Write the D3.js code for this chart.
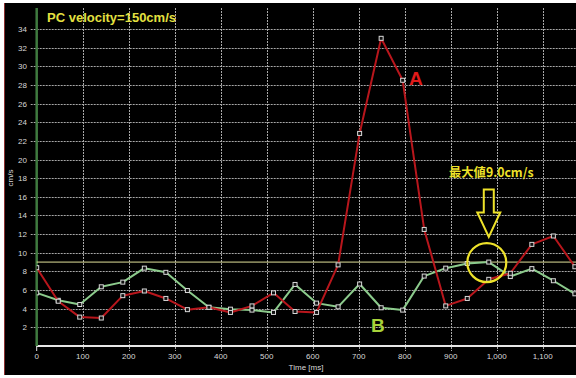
<!DOCTYPE html>
<html>
<head>
<meta charset="utf-8">
<script src="https://cdn.jsdelivr.net/npm/d3@7"></script>
<style>
  html, body { margin: 0; padding: 0; background: #fff; }
  svg { display: block; }
</style>
</head>
<body>
<svg id="chart" width="576" height="378"></svg>
<script>
// Frame interval of the phase-contrast acquisition (ms)
const frameMs = 46.8;

// Series A (red) and series B (green), velocity in cm/s per frame
const seriesA = [8.4, 4.8, 3.1, 3.0, 5.4, 5.9, 5.1, 3.9, 4.15, 3.6, 4.3, 5.7, 3.7,
                 3.6, 8.7, 22.8, 33.0, 28.5, 12.5, 4.3, 5.1, 7.15, 7.8, 10.9, 11.8, 8.5];
const seriesB = [5.7, 4.9, 4.45, 6.35, 6.85, 8.35, 7.9, 5.95, 4.15, 3.95, 3.85, 3.6, 6.6,
                 4.6, 4.2, 6.65, 4.1, 3.85, 7.5, 8.35, 8.85, 9.0, 7.45, 8.3, 7.0, 5.6];

const yTicks = [2, 4, 6, 8, 10, 12, 14, 16, 18, 20, 22, 24, 26, 28, 30, 32, 34];
const xTicks = [0, 100, 200, 300, 400, 500, 600, 700, 800, 900, 1000, 1100];

const peakB = 9.0;
const titleText = "PC velocity=150cm/s";
const peakText = "最大値9.0cm/s";

const svg = d3.select("#chart");
const W = 576, H = 378;

const x = d3.scaleLinear().domain([0, 1100]).range([36.7, 542.7]);
const y = d3.scaleLinear().domain([0, 34]).range([346, 29]);
const plotTop = 8, plotRight = W;

// Panel background
svg.append("rect").attr("x", 4).attr("y", 3).attr("width", W - 4).attr("height", 372).attr("fill", "#000");
svg.append("line").attr("x1", 4.5).attr("x2", 4.5).attr("y1", 3).attr("y2", 375)
  .attr("stroke", "#8a3030").attr("stroke-width", 1);

svg.append("defs").append("clipPath").attr("id", "plotClip")
  .append("rect").attr("x", x(0)).attr("y", plotTop).attr("width", plotRight - x(0)).attr("height", y(0) - plotTop + 1);

// Grid
const grid = svg.append("g").attr("stroke", "#a8a8a8").attr("stroke-width", 1).attr("stroke-dasharray", "2,1");
grid.selectAll("line.h").data(yTicks).join("line").attr("class", "h")
  .attr("x1", x(0) - 6).attr("x2", plotRight)
  .attr("y1", d => Math.round(y(d)) + 0.5).attr("y2", d => Math.round(y(d)) + 0.5);
grid.selectAll("line.v").data(xTicks.filter(d => d > 0)).join("line").attr("class", "v")
  .attr("y1", plotTop).attr("y2", y(0) + 5)
  .attr("x1", d => Math.round(x(d)) + 0.5).attr("x2", d => Math.round(x(d)) + 0.5);

// Axes lines
svg.append("line").attr("x1", x(0)).attr("x2", plotRight).attr("y1", y(0)).attr("y2", y(0))
  .attr("stroke", "#e6e6e6").attr("stroke-width", 2);
svg.append("line").attr("x1", x(0)).attr("x2", x(0)).attr("y1", plotTop).attr("y2", y(0))
  .attr("stroke", "#3f7a3f").attr("stroke-width", 2.5);
svg.append("line").attr("x1", x(0)).attr("x2", x(0)).attr("y1", y(0)).attr("y2", y(0) + 5)
  .attr("stroke", "#e6e6e6").attr("stroke-width", 1);

// Tick labels
const labelFont = "'Liberation Sans', Arial, sans-serif";
svg.append("g").selectAll("text").data(yTicks).join("text")
  .attr("x", 27).attr("y", d => y(d) + 3)
  .attr("text-anchor", "end").attr("font-family", labelFont).attr("font-size", 8)
  .attr("fill", "#d8d8d8").text(d => d);
svg.append("g").selectAll("text").data(xTicks).join("text")
  .attr("x", d => x(d)).attr("y", 359)
  .attr("text-anchor", "middle").attr("font-family", labelFont).attr("font-size", 8)
  .attr("fill", "#d8d8d8").text(d => d3.format(",")(d));
svg.append("text").attr("x", 306).attr("y", 369.5).attr("text-anchor", "middle")
  .attr("font-family", labelFont).attr("font-size", 8).attr("fill", "#d8d8d8").text("Time [ms]");
svg.append("text").attr("transform", "translate(13,178) rotate(-90)").attr("text-anchor", "middle")
  .attr("font-family", labelFont).attr("font-size", 8).attr("fill", "#d8d8d8").text("cm/s");

// Peak reference line
svg.append("line").attr("x1", x(0)).attr("x2", plotRight)
  .attr("y1", y(peakB)).attr("y2", y(peakB))
  .attr("stroke", "#e0e09a").attr("stroke-width", 1);

const plot = svg.append("g").attr("clip-path", "url(#plotClip)");
const line = d3.line().x((d, i) => x(i * frameMs)).y(d => y(d));

function drawSeries(values, color) {
  plot.append("path").datum(values).attr("d", line)
    .attr("fill", "none").attr("stroke", color).attr("stroke-width", 2).attr("stroke-linejoin", "round");
  plot.append("g").selectAll("rect").data(values).join("rect")
    .attr("x", (d, i) => x(i * frameMs) - 2).attr("y", d => y(d) - 2)
    .attr("width", 4).attr("height", 4)
    .attr("fill", "#111").attr("stroke", "#d8d8d8").attr("stroke-width", 1);
}
drawSeries(seriesB, "#8ccb8c");
drawSeries(seriesA, "#b8161c");

// Title
svg.append("text").attr("x", 47).attr("y", 22)
  .attr("font-family", labelFont).attr("font-weight", "bold").attr("font-size", 13)
  .attr("fill", "#e4e040").text(titleText);

// Series labels
svg.append("text").attr("x", 409).attr("y", 85)
  .attr("font-family", labelFont).attr("font-weight", "bold").attr("font-size", 19)
  .attr("fill", "#e01a1a").text("A");
svg.append("text").attr("x", 371).attr("y", 332)
  .attr("font-family", labelFont).attr("font-weight", "bold").attr("font-size", 19)
  .attr("fill", "#a8d23a").text("B");

// Peak annotation: text, hollow arrow and circle around the maximum of B
const iPeak = seriesB.indexOf(peakB);
const px = x(iPeak * frameMs), py = y(peakB);
const ann = "#eee22a";
svg.append("text").attr("x", px + 2.5).attr("y", 177).attr("text-anchor", "middle")
  .attr("font-family", "'Noto Sans CJK JP', sans-serif").attr("font-weight", "bold").attr("font-size", 12.3)
  .attr("fill", ann).text(peakText);
const arrowPath = d3.path();
arrowPath.moveTo(px - 5, 189.5);
arrowPath.lineTo(px + 5, 189.5);
arrowPath.lineTo(px + 5, 212.5);
arrowPath.lineTo(px + 11.5, 212.5);
arrowPath.lineTo(px, 237);
arrowPath.lineTo(px - 11.5, 212.5);
arrowPath.lineTo(px - 5, 212.5);
arrowPath.closePath();
svg.append("path").attr("d", arrowPath.toString())
  .attr("fill", "none").attr("stroke", ann).attr("stroke-width", 2).attr("stroke-linejoin", "miter");
svg.append("circle").attr("cx", px - 2).attr("cy", py + 0.5).attr("r", 19.5)
  .attr("fill", "none").attr("stroke", ann).attr("stroke-width", 2.2);
</script>
</body>
</html>
